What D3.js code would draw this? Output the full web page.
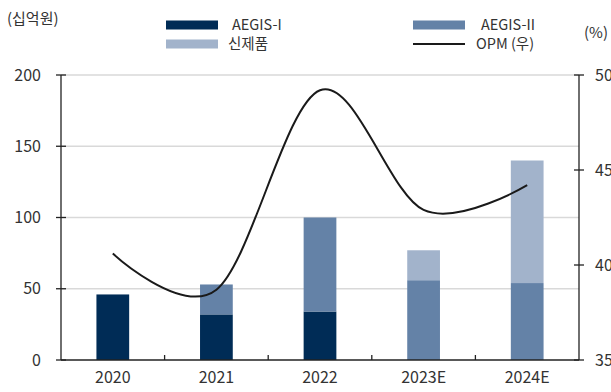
<!DOCTYPE html>
<html><head><meta charset="utf-8">
<script src="https://cdn.jsdelivr.net/npm/d3@7"></script>
<style>
html,body{margin:0;padding:0;background:#fff;}
svg{display:block;font-family:"Noto Sans CJK KR","Noto Sans",sans-serif;}
</style></head>
<body><svg id="c" width="611" height="392"></svg>
<script>
const categories = ["2020","2021","2022","2023E","2024E"];
const aegis1 = [46, 32, 34, 0, 0];
const aegis2 = [0, 21, 66, 56, 54];
const newProd = [0, 0, 0, 21, 86];
const opm = [40.6, 38.7, 49.2, 42.9, 44.2];
const leftTicks = [0, 50, 100, 150, 200];
const rightTicks = [35, 40, 45, 50];
const seriesNames = ["AEGIS-I", "AEGIS-II", "신제품", "OPM (우)"];
const colors = ["#002c56", "#6482a7", "#a2b3cb"];

const svg = d3.select("#c");
const L = 61, R = 579, T = 75, B = 360;
const FF = "'Noto Sans CJK KR','Noto Sans',sans-serif";
const x = d3.scaleBand().domain(categories).range([L, R]).padding(0);
const y = d3.scaleLinear().domain([0, 200]).range([B, T]);
const y2 = d3.scaleLinear().domain([35, 50]).range([B, T]);
const barW = x.bandwidth() * 0.316;

// gridlines
svg.append("g").selectAll("line").data(leftTicks.filter(d => d > 0)).join("line")
  .attr("x1", L).attr("x2", R).attr("y1", d => y(d)).attr("y2", d => y(d))
  .attr("stroke", "#d9d9d9").attr("stroke-width", 1.5);

// stacked bars
const stackData = categories.map((c, i) => ({cat: c, a1: aegis1[i], a2: aegis2[i], np: newProd[i]}));
const stack = d3.stack().keys(["a1", "a2", "np"])(stackData);
svg.append("g").selectAll("g").data(stack).join("g")
  .attr("fill", (d, i) => colors[i])
  .selectAll("rect").data(d => d.filter(s => s[1] > s[0])).join("rect")
  .attr("x", d => x(d.data.cat) + x.bandwidth() / 2 - barW / 2)
  .attr("width", barW)
  .attr("y", d => y(d[1]))
  .attr("height", d => y(d[0]) - y(d[1]));

// OPM line
const line = d3.line()
  .x((d, i) => x(categories[i]) + x.bandwidth() / 2)
  .y(d => y2(d))
  .curve(d3.curveCardinal.tension(0));
svg.append("path").datum(opm).attr("d", line)
  .attr("fill", "none").attr("stroke", "#1a1a1a").attr("stroke-width", 2);

// axes
const axisColor = "#222";
const gl = svg.append("g").attr("transform", `translate(${L},0)`)
  .call(d3.axisLeft(y).tickValues(leftTicks).tickSize(0).tickPadding(20));
gl.select(".domain").remove();
gl.selectAll(".tick text").attr("font-size", 16).attr("fill", "#333").attr("font-family", FF);
svg.append("g").selectAll("line").data(leftTicks).join("line")
  .attr("x1", L - 5).attr("x2", L + 5).attr("y1", d => y(d)).attr("y2", d => y(d))
  .attr("stroke", axisColor).attr("stroke-width", 1.3);
svg.append("line").attr("x1", L).attr("x2", L).attr("y1", T).attr("y2", B)
  .attr("stroke", axisColor).attr("stroke-width", 1.3);

const gr = svg.append("g").attr("transform", `translate(${R},0)`)
  .call(d3.axisRight(y2).tickValues(rightTicks).tickSize(0).tickPadding(16));
gr.select(".domain").remove();
gr.selectAll(".tick text").attr("font-size", 16).attr("fill", "#333").attr("font-family", FF);
svg.append("g").selectAll("line").data(rightTicks).join("line")
  .attr("x1", R - 5).attr("x2", R + 5).attr("y1", d => y2(d)).attr("y2", d => y2(d))
  .attr("stroke", axisColor).attr("stroke-width", 1.3);
svg.append("line").attr("x1", R).attr("x2", R).attr("y1", T).attr("y2", B)
  .attr("stroke", axisColor).attr("stroke-width", 1.3);

const gb = svg.append("g").attr("transform", `translate(0,${B})`)
  .call(d3.axisBottom(x).tickSize(0).tickPadding(12));
gb.select(".domain").remove();
gb.selectAll(".tick text").attr("font-size", 16).attr("fill", "#333").attr("font-family", FF);
svg.append("g").selectAll("line").data(categories.slice(1)).join("line")
  .attr("x1", d => x(d)).attr("x2", d => x(d)).attr("y1", B).attr("y2", B - 5)
  .attr("stroke", axisColor).attr("stroke-width", 1.3);
svg.append("line").attr("x1", L).attr("x2", R).attr("y1", B).attr("y2", B)
  .attr("stroke", axisColor).attr("stroke-width", 1.5);

// unit labels
svg.append("text").attr("x", 7).attr("y", 24).attr("font-size", 15).attr("fill", "#333").text("(십억원)");
svg.append("text").attr("x", 584).attr("y", 38).attr("font-size", 15).attr("fill", "#333").text("(%)");

// legend
const leg = svg.append("g").attr("font-size", 14.5).attr("fill", "#333");
const legItems = [
  {name: seriesNames[0], sx: 166, sy: 25, tx: 232, type: "rect", color: colors[0]},
  {name: seriesNames[2], sx: 166, sy: 44, tx: 228, type: "rect", color: colors[2]},
  {name: seriesNames[1], sx: 413, sy: 25, tx: 481, type: "rect", color: colors[1]},
  {name: seriesNames[3], sx: 413, sy: 44, tx: 476, type: "line", color: "#1a1a1a"}
];
legItems.forEach(it => {
  if (it.type === "rect") {
    leg.append("rect").attr("x", it.sx).attr("y", it.sy - 4.5).attr("width", 52).attr("height", 9).attr("fill", it.color);
  } else {
    leg.append("line").attr("x1", it.sx).attr("x2", it.sx + 52).attr("y1", it.sy).attr("y2", it.sy)
      .attr("stroke", it.color).attr("stroke-width", 2);
  }
  leg.append("text").attr("x", it.tx).attr("y", it.sy + 5).attr("fill", "#333").text(it.name);
});
</script></body></html>
